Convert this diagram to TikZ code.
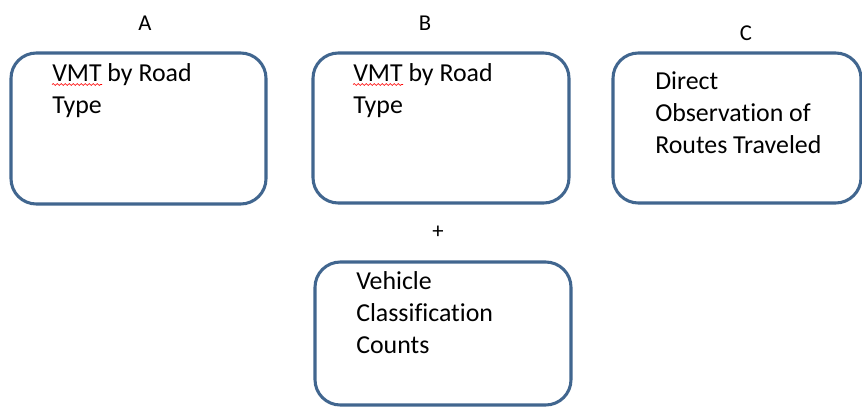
\documentclass[tikz,border=0pt]{standalone}
\usepackage{fontspec}
\setmainfont[Ligatures=NoCommon]{Carlito}
\usetikzlibrary{decorations.pathmorphing}
\definecolor{boxline}{HTML}{41668F}
\tikzset{
  card/.style={draw=boxline, line width=2.3pt, rounded corners=19pt, inner sep=0pt},
  % anchored at the baseline of the last line
  cardtext/.style={anchor=base west, align=left, inner sep=0pt,
    font=\fontsize{19.4}{24}\selectfont},
  tag/.style={font=\fontsize{17}{20}\selectfont, inner sep=0pt},
  spell/.style={draw=red, line width=0.5pt,
    decorate, decoration={snake, amplitude=0.7pt, segment length=3pt}}
}
\begin{document}
\begin{tikzpicture}[x=0.75pt, y=-0.75pt]
  \useasboundingbox (0,0) rectangle (862,407);
  \clip (0,0) rectangle (862,407);
  % column headings
  \node[tag] (la) at (145,23) {A};
  \node[tag] (lb) at (425,23) {B};
  \node[tag] (lc) at (746,33) {C};
  \node[tag] (plus) at (438,232) {+};
  % boxes
  \draw[card] (11,53) rectangle (266,204);
  \node (boxa) at (138.5,128.5) {};
  \draw[card] (313,53) rectangle (569,203);
  \node (boxb) at (441,128) {};
  \draw[card] (613,53) rectangle (861,203);
  \node (boxc) at (737,128) {};
  \draw[card] (315,262) rectangle (571,405);
  \node (boxd) at (443,333.5) {};
  % box texts
  \node[cardtext] (ta) at (52,113) {VMT by Road\\Type};
  \draw[spell] (52,84.5) -- (102,84.5);
  \node[cardtext] (tb) at (353,113) {VMT by Road\\Type};
  \draw[spell] (353,84.5) -- (403,84.5);
  \node[cardtext] (tc) at (655,153) {Direct\\Observation of\\Routes Traveled};
  \node[cardtext] (td) at (356,353) {Vehicle\\Classification\\Counts};
\end{tikzpicture}
\end{document}
